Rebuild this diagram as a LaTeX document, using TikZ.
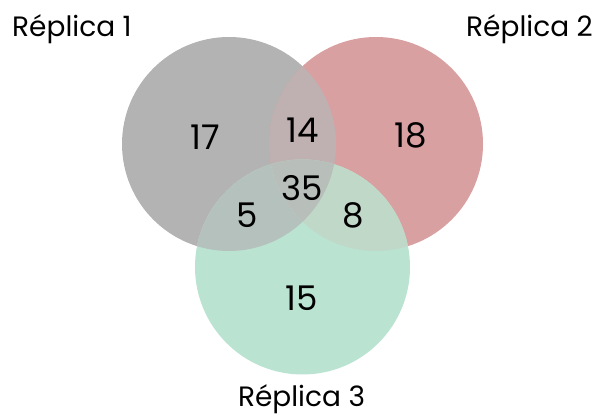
\documentclass[tikz,border=0pt]{standalone}
\usepackage{fontspec}
\setmainfont{Poppins}
\definecolor{cgray}{HTML}{B3B3B3}
\definecolor{cred}{HTML}{D9A0A1}
\definecolor{cgreen}{HTML}{BAE3D2}
\definecolor{cgr}{HTML}{BFB1B1}
\definecolor{cgg}{HTML}{B5C1BD}
\definecolor{crg}{HTML}{C0D8C8}
\definecolor{call}{HTML}{B8BFBB}
\tikzset{
  num/.style={font=\fontsize{34}{34}\selectfont, text=black, inner sep=0pt},
  lbl/.style={font=\fontsize{28}{28}\selectfont, text=black, inner sep=0pt},
}
\begin{document}
\begin{tikzpicture}[x=1pt,y=-1pt]
\useasboundingbox (0,0) rectangle (594,419);
\def\cA{(229,144) circle (107)}
\def\cB{(376,144) circle (107)}
\def\cC{(302.5,267) circle (107.5)}
\fill[cgray] \cA;
\fill[cred] \cB;
\fill[cgreen] \cC;
\begin{scope}\clip \cA; \fill[cgr] \cB; \end{scope}
\begin{scope}\clip \cA; \fill[cgg] \cC; \end{scope}
\begin{scope}\clip \cB; \fill[crg] \cC; \end{scope}
\begin{scope}\clip \cA; \clip \cB; \fill[call] \cC; \end{scope}
\node[num] (n17) at (205,137) {17};
\node[num] (n14) at (303,130) {14};
\node[num] (n18) at (411,135) {18};
\node[num] (n35) at (302,188) {35};
\node[num] (n5) at (247,215) {5};
\node[num] (n8) at (353,215) {8};
\node[num] (n15) at (302,298) {15};
\node[lbl, anchor=base west] (l1) at (12,37) {Réplica 1};
\node[lbl, anchor=base east] (l2) at (593,37) {Réplica 2};
\node[lbl, anchor=base] (l3) at (301.5,406) {Réplica 3};
\end{tikzpicture}
\end{document}
